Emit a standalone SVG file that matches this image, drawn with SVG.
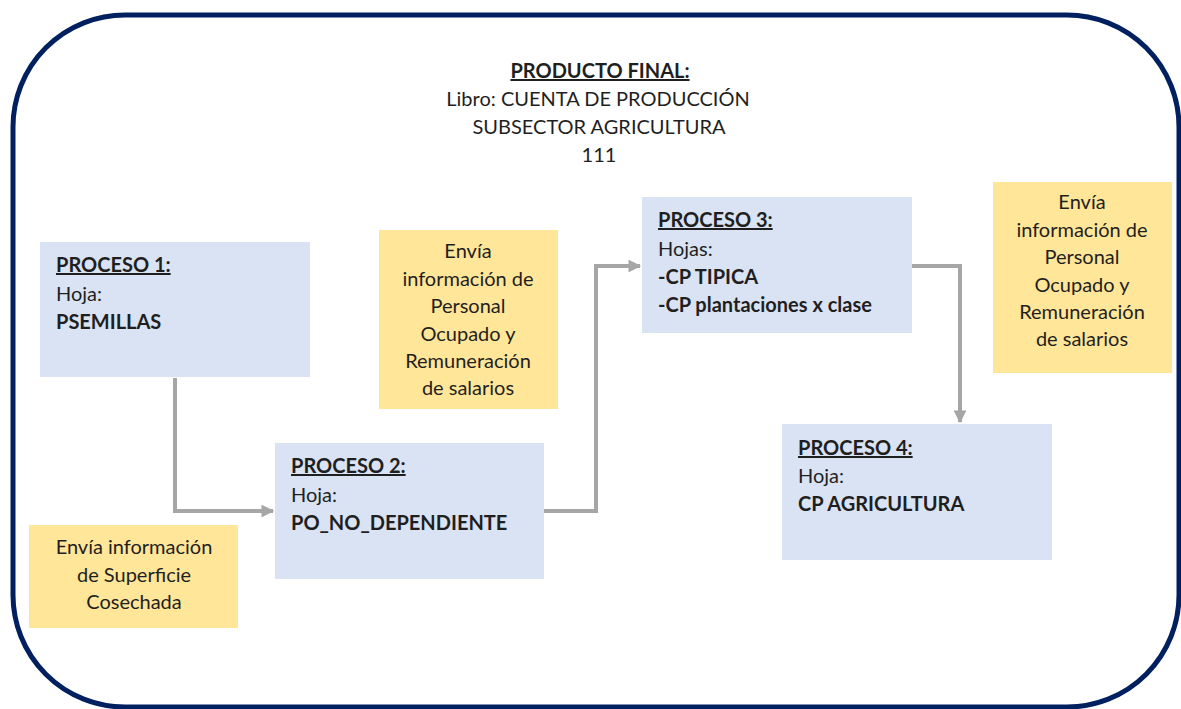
<svg xmlns="http://www.w3.org/2000/svg" width="1181" height="709" viewBox="0 0 1181 709">
  <defs>
    <marker id="arrow" viewBox="0 0 10 10" refX="9" refY="5" markerWidth="4" markerHeight="3.2" markerUnits="strokeWidth" orient="auto">
      <path d="M0,0 L10,5 L0,10 z" fill="#A6A6A6"/>
    </marker>
    <style>
      text { font-family: "Lato", "Liberation Sans", sans-serif; font-size: 20px; fill: #1f1f1f; }
      .b { font-weight: bold; }
      .u { font-weight: bold; text-decoration: underline; }
      .c { text-anchor: middle; }
      .proc { fill: #DAE3F3; }
      .note { fill: #FFE699; }
      .conn { fill: none; stroke: #A6A6A6; stroke-width: 4; marker-end: url(#arrow); }
    </style>
  </defs>

  <rect width="1181" height="709" fill="#FFFFFF"/>

  <!-- outer frame -->
  <rect x="13" y="15" width="1166" height="692" rx="112" ry="112" fill="none" stroke="#002060" stroke-width="5"/>

  <!-- title -->
  <g id="title">
    <text class="u c" x="600" y="78">PRODUCTO FINAL:</text>
    <text class="c" x="598" y="106">Libro: CUENTA DE PRODUCCIÓN</text>
    <text class="c" x="599" y="134">SUBSECTOR AGRICULTURA</text>
    <text class="c" x="599" y="162">111</text>
  </g>

  <!-- connectors -->
  <g id="connectors">
    <path class="conn" d="M175,378 V511 H273"/>
    <path class="conn" d="M544,511 H596 V266 H640"/>
    <path class="conn" d="M912,266 H960 V422"/>
  </g>

  <!-- process nodes -->
  <g id="proceso1">
    <rect class="proc" x="40" y="242" width="270" height="135"/>
    <text class="u" x="56" y="272">PROCESO 1:</text>
    <text x="56" y="301">Hoja:</text>
    <text class="b" x="56" y="329">PSEMILLAS</text>
  </g>

  <g id="proceso2">
    <rect class="proc" x="275" y="443" width="269" height="136"/>
    <text class="u" x="291" y="473">PROCESO 2:</text>
    <text x="291" y="502">Hoja:</text>
    <text class="b" x="291" y="530">PO_NO_DEPENDIENTE</text>
  </g>

  <g id="proceso3">
    <rect class="proc" x="642" y="197" width="270" height="136"/>
    <text class="u" x="658" y="227">PROCESO 3:</text>
    <text x="658" y="256">Hojas:</text>
    <text class="b" x="658" y="284">-CP TIPICA</text>
    <text class="b" x="658" y="312">-CP plantaciones x clase</text>
  </g>

  <g id="proceso4">
    <rect class="proc" x="782" y="424" width="270" height="136"/>
    <text class="u" x="798" y="455">PROCESO 4:</text>
    <text x="798" y="483">Hoja:</text>
    <text class="b" x="798" y="511">CP AGRICULTURA</text>
  </g>

  <!-- notes -->
  <g id="nota-superficie">
    <rect class="note" x="29" y="525" width="209" height="103"/>
    <text class="c" x="134" y="554">Envía información</text>
    <text class="c" x="134" y="582">de Superficie</text>
    <text class="c" x="134" y="609">Cosechada</text>
  </g>

  <g id="nota-personal-1">
    <rect class="note" x="379" y="230" width="179" height="179"/>
    <text class="c" x="468" y="258">Envía</text>
    <text class="c" x="468" y="286">información de</text>
    <text class="c" x="468" y="313">Personal</text>
    <text class="c" x="468" y="341">Ocupado y</text>
    <text class="c" x="468" y="368">Remuneración</text>
    <text class="c" x="468" y="395">de salarios</text>
  </g>

  <g id="nota-personal-2">
    <rect class="note" x="993" y="182" width="179" height="191"/>
    <text class="c" x="1082" y="209">Envía</text>
    <text class="c" x="1082" y="237">información de</text>
    <text class="c" x="1082" y="264">Personal</text>
    <text class="c" x="1082" y="292">Ocupado y</text>
    <text class="c" x="1082" y="319">Remuneración</text>
    <text class="c" x="1082" y="346">de salarios</text>
  </g>
</svg>
